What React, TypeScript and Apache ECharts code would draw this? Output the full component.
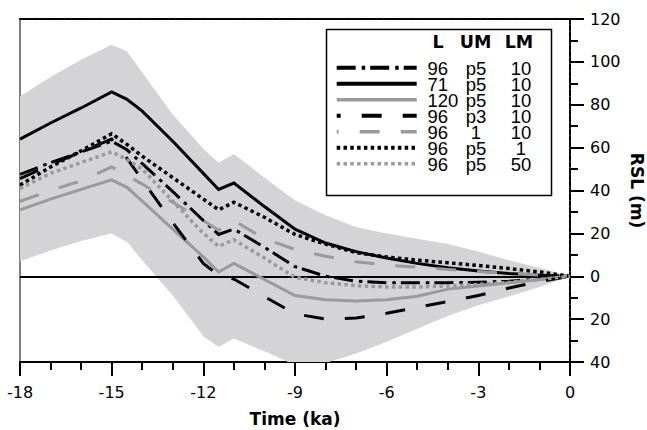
import React, { useEffect, useRef } from 'react';
import * as echarts from 'echarts';

// Time (ka) sample points shared by all curves
const TIME = [-18, -17, -16, -15, -14.5, -14, -13, -12, -11.5, -11, -10, -9, -8, -7, -6, -5, -4, -3, -2, -1, 0];

// Grey envelope (upper / lower bounds, m)
const BAND_UPPER = [84, 93, 101, 108, 105, 95, 75.5, 59.5, 53, 57, 46, 35.5, 28.5, 23, 20, 17.5, 15, 11.5, 7.5, 4, 0];
const BAND_LOWER = [7, 12, 16.5, 20, 16, 7.5, -9, -28, -33, -29, -35, -41.5, -40.5, -36, -30.5, -24.5, -18.5, -13.5, -9.5, -5, 0];

// RSL curves (m)
const RSL_96_P5_10 = [47.5, 53, 58, 63, 59, 52.5, 39.5, 26, 19.5, 22, 13.5, 4.5, 0, -2.3, -3, -3, -3, -2.8, -2.3, -1.3, 0];
const RSL_71_P5_10 = [64, 71.5, 78.5, 86, 82.5, 77, 63, 48, 40.5, 43.5, 32.5, 22, 15.5, 11.5, 8.5, 6, 4, 2.5, 1.3, 0.5, 0];
const RSL_120_P5_10 = [31, 36, 40.5, 45, 41.5, 35, 22, 9, 2, 6, -1.5, -9, -11, -11.5, -11, -9.3, -6, -4.5, -3, -1.5, 0];
const RSL_96_P3_10 = [45.5, 52, 58, 64, 55, 45, 25, 6, 0.5, -1.3, -9.5, -17.5, -20, -19.5, -17.3, -14.5, -11.8, -9, -5.5, -2.5, 0];
const RSL_96_1_10 = [35, 40, 44.5, 51, 47, 43, 34.5, 26, 21.5, 26, 17.5, 12.5, 9.3, 6.8, 5.2, 4.2, 3.2, 2.2, 1.3, 0.6, 0];
const RSL_96_P5_1 = [42.5, 51, 58.5, 66.5, 61.5, 56, 46, 36, 31, 34.5, 27.5, 19.5, 15, 11, 9, 7.5, 6.3, 5, 3.6, 2, 0];
const RSL_96_P5_50 = [41, 48, 53, 58, 54.5, 50, 35, 20, 14, 17, 8.5, -0.5, -3, -4.4, -5, -5, -4.5, -3.8, -2.9, -1.5, 0];

// Legend columns
const LEGEND_L = ['96', '71', '120', '96', '96', '96', '96'];
const LEGEND_UM = ['p5', 'p5', 'p5', 'p3', '1', 'p5', 'p5'];
const LEGEND_LM = ['10', '10', '10', '10', '10', '1', '50'];
const LEGEND_HEADER = ['L', 'UM', 'LM'];
const CURVES = [RSL_96_P5_10, RSL_71_P5_10, RSL_120_P5_10, RSL_96_P3_10, RSL_96_1_10, RSL_96_P5_1, RSL_96_P5_50];

const X_TICKS = { min: -18, max: 0, interval: 3 };
const Y_TICKS = { min: -40, max: 120, interval: 20 };

const BLACK = '#000000';
const GREY = '#9a9a9a';
const FONT = 'DejaVu Sans, sans-serif';
const LEG_FONT = 'Liberation Sans, Arial, sans-serif';

type Style = { color: string; width: number; legendWidth: number; dash: number[] | null; offset: number; legendOffset: number };
const STYLES: Style[] = [
  { color: BLACK, width: 3, legendWidth: 4, dash: [19, 6, 3.5, 5], offset: 0, legendOffset: 0 },
  { color: BLACK, width: 3, legendWidth: 4, dash: null, offset: 0, legendOffset: 0 },
  { color: GREY, width: 3, legendWidth: 3.5, dash: null, offset: 0, legendOffset: 0 },
  { color: BLACK, width: 3, legendWidth: 4, dash: [20, 21], offset: 0, legendOffset: 16 },
  { color: GREY, width: 3, legendWidth: 3.5, dash: [20, 21], offset: 0, legendOffset: 18 },
  { color: BLACK, width: 3.5, legendWidth: 4, dash: [3.5, 3.3], offset: 0, legendOffset: 0 },
  { color: GREY, width: 3.5, legendWidth: 3.5, dash: [3.5, 3.3], offset: 0, legendOffset: 0 },
];

export default function App() {
  const ref = useRef<HTMLDivElement>(null);

  useEffect(() => {
    if (!ref.current) return;
    const chart = echarts.init(ref.current, undefined, { renderer: 'svg' });

    const names = LEGEND_L.map((l, i) => `${l} ${LEGEND_UM[i]} ${LEGEND_LM[i]}`);

    const lineSeries = CURVES.map((vals, i) => {
      const s = STYLES[i];
      const ser: any = {
        type: 'line',
        name: names[i],
        data: TIME.map((t, k) => [t, vals[k]]),
        symbol: 'none',
        showSymbol: false,
        silent: true,
        clip: true,
        z: 3 + i,
        lineStyle: {
          color: s.color,
          width: s.width,
          type: s.dash ? s.dash : 'solid',
          dashOffset: s.offset,
          cap: 'butt',
          join: 'miter',
        },
      };
      return ser;
    });

    const bandSeries: any = {
      type: 'custom',
      coordinateSystem: 'cartesian2d',
      clip: true,
      silent: true,
      z: 1,
      data: [[TIME[0], BAND_LOWER[0]]],
      renderItem: (params: any, api: any) => {
        if (params.dataIndex !== 0) return null;
        const up = TIME.map((t, k) => api.coord([t, BAND_UPPER[k]]));
        const lo = TIME.map((t, k) => api.coord([t, BAND_LOWER[k]])).reverse();
        const cs = params.coordSys;
        return {
          type: 'polygon',
          shape: { points: up.concat(lo) },
          style: { fill: '#d4d4d6', stroke: null },
          clipPath: { type: 'rect', shape: { x: cs.x, y: cs.y, width: cs.width, height: cs.height } },
        };
      },
      markLine: {
        silent: true,
        symbol: 'none',
        label: { show: false },
        lineStyle: { color: BLACK, width: 2, type: 'solid' },
        data: [{ yAxis: 0 }],
        z: 2,
      },
    };

    // Legend box drawn with graphic elements
    const boxX = 326.5, boxY = 29.5, boxW = 225, boxH = 166;
    const rowY0 = 68.8, rowStep = 16;
    const headerX = [438, 475.5, 519];
    const graphics: any[] = [
      { type: 'rect', z: 100, shape: { x: boxX, y: boxY, width: boxW, height: boxH }, style: { fill: '#fff', stroke: BLACK, lineWidth: 1.5 } },
      { type: 'text', z: 101, x: 637, y: 190.5, rotation: -Math.PI / 2, style: { text: 'RSL (m)', fontFamily: FONT, fontSize: 17, fontWeight: 'bold', fill: BLACK, align: 'center', verticalAlign: 'middle' } },
    ];
    LEGEND_HEADER.forEach((h, j) => {
      graphics.push({ type: 'text', z: 101, x: headerX[j], y: 42.4, style: { text: h, fontFamily: FONT, fontSize: 17.5, fontWeight: 'bold', fill: BLACK, align: 'center', verticalAlign: 'middle' } });
    });
    STYLES.forEach((s, i) => {
      const cy = rowY0 + rowStep * i;
      graphics.push({
        type: 'line', z: 101,
        shape: { x1: 336.7, y1: cy - 1, x2: 416.7, y2: cy - 1 },
        style: { stroke: s.color, lineWidth: s.legendWidth, lineDash: s.dash || null, lineDashOffset: s.legendOffset, lineCap: 'butt' },
      });
    });
    // Legend columns as multi-line texts (one per column)
    const colTop = rowY0 - rowStep / 2;
    const colStyle = { fontFamily: LEG_FONT, fontSize: 18.5, fill: BLACK, verticalAlign: 'top', lineHeight: rowStep };
    graphics.push({ type: 'text', z: 101, x: 427.5, y: colTop, style: { ...colStyle, text: LEGEND_L.join('\n'), align: 'left' } });
    graphics.push({ type: 'text', z: 101, x: 476, y: colTop, style: { ...colStyle, text: LEGEND_UM.join('\n'), align: 'center' } });
    graphics.push({ type: 'text', z: 101, x: 521, y: colTop, style: { ...colStyle, text: LEGEND_LM.join('\n'), align: 'center' } });

    const option: any = {
      animation: false,
      backgroundColor: '#ffffff',
      textStyle: { fontFamily: FONT },
      grid: { left: 20, right: 77, top: 19, bottom: 68, containLabel: false, outerBoundsMode: 'none' },
      xAxis: [
        {
          type: 'value', ...X_TICKS, position: 'bottom',
          axisLine: { show: true, onZero: false, lineStyle: { color: BLACK, width: 2 } },
          axisTick: { show: true, inside: false, length: 14, lineStyle: { color: BLACK, width: 2 } },
          minorTick: { show: true, splitNumber: 3, length: 8, lineStyle: { color: BLACK, width: 2 } },
          axisLabel: { margin: 22, color: BLACK, fontSize: 16, fontFamily: FONT },
          splitLine: { show: false },
          name: 'Time (ka)', nameLocation: 'middle', nameGap: 48,
          nameTextStyle: { color: BLACK, fontSize: 17, fontWeight: 'bold', fontFamily: FONT },
        },
        {
          type: 'value', ...X_TICKS, position: 'top',
          axisLine: { show: true, onZero: false, lineStyle: { color: BLACK, width: 2, type: [5, 1.5] } },
          axisTick: { show: false }, axisLabel: { show: false }, splitLine: { show: false },
        },
      ],
      yAxis: [
        {
          type: 'value', ...Y_TICKS, position: 'right',
          axisLine: { show: true, onZero: false, lineStyle: { color: BLACK, width: 2, type: [5, 1.5] } },
          axisTick: { show: true, inside: false, length: 14, lineStyle: { color: BLACK, width: 2 } },
          minorTick: { show: true, splitNumber: 2, length: 8, lineStyle: { color: BLACK, width: 2 } },
          axisLabel: { margin: 20, color: BLACK, fontSize: 16, fontFamily: FONT, formatter: (v: number) => String(Math.abs(v)) },
          splitLine: { show: false },
        },
        {
          type: 'value', ...Y_TICKS, position: 'left',
          axisLine: { show: true, onZero: false, lineStyle: { color: '#555555', width: 1.5 } },
          axisTick: { show: false }, axisLabel: { show: false }, splitLine: { show: false },
        },
      ],
      series: [bandSeries, ...lineSeries],
      graphic: graphics,
    };

    chart.setOption(option);
    return () => chart.dispose();
  }, []);

  return <div ref={ref} style={{ position: 'fixed', left: 0, top: 0, width: 647, height: 430 }} />;
}
